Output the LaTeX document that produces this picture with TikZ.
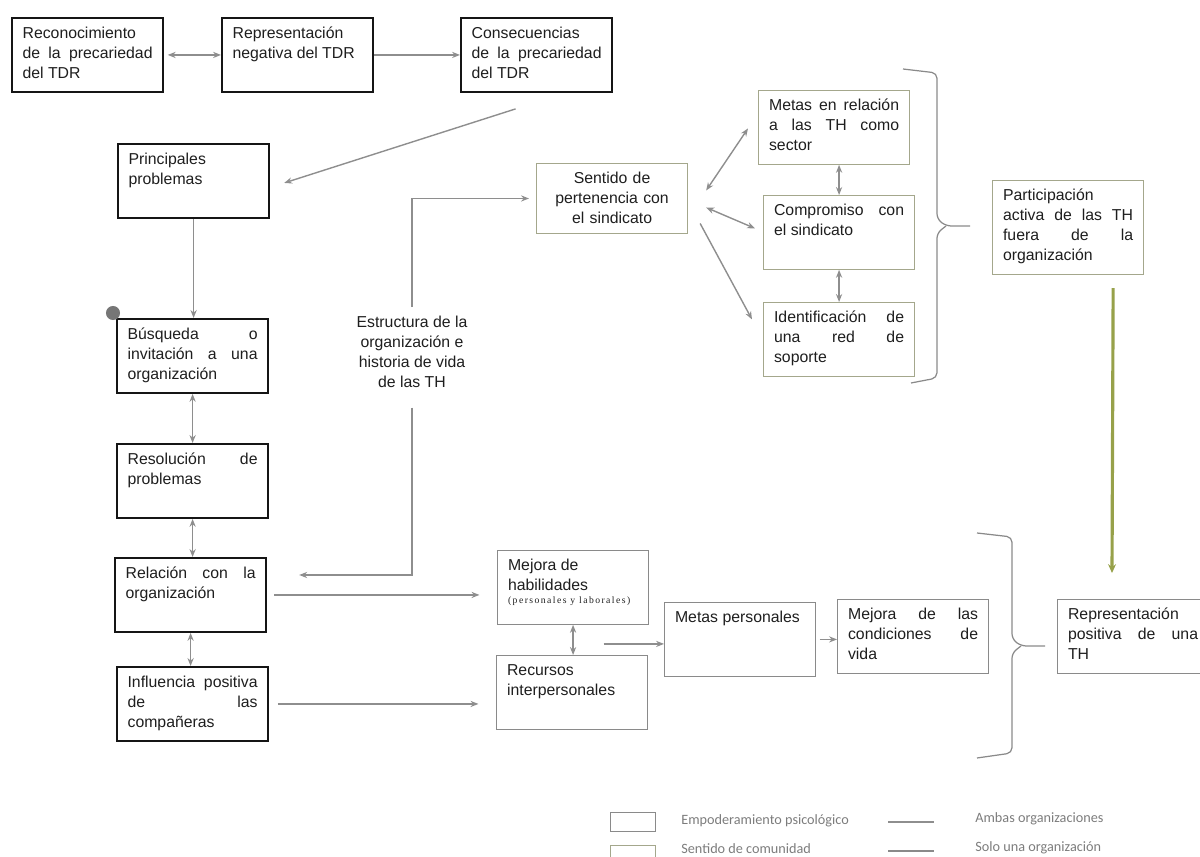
\documentclass[tikz,border=0pt]{standalone}
\usepackage{fontspec}
\setmainfont{Liberation Sans}
\newfontfamily\legendfont{Carlito}
\newfontfamily\notefont[LetterSpace=15]{Liberation Serif}
\usepackage{tikz}
\usetikzlibrary{arrows.meta, positioning, calc}
\definecolor{TDRBlack}{HTML}{151515}
\definecolor{TDRText}{HTML}{1E1E1E}
\definecolor{TDROlive}{HTML}{A4A78C}
\definecolor{TDRGrey}{HTML}{8A8A8A}
\definecolor{TDRArrow}{HTML}{8E8E8E}
\definecolor{TDRGreen}{HTML}{97A14A}
\definecolor{TDRDot}{HTML}{767676}
\definecolor{TDRLegend}{HTML}{7C7C7C}
\hyphenpenalty=10000
\exhyphenpenalty=10000
\hbadness=10000
\tikzset{
    box/.style={
        draw=TDRBlack,
        line width=1.2pt,
        anchor=north west,
        text width=74pt,
        text height=7.5pt,
        text depth=26.5pt,
        inner xsep=6pt,
        inner ysep=4pt,
        text=TDRText,
        font=\fontsize{9}{11.4}\selectfont,
        align=justify
    },
    commbox/.style={
        box,
        draw=TDROlive,
        line width=0.6pt
    },
    lightbox/.style={
        box,
        draw=TDRGrey,
        line width=0.6pt
    },
    note/.style={
        text=TDRText,
        font=\fontsize{9}{11.4}\selectfont,
        align=center,
        inner sep=5pt
    },
    arrow/.style={
        ->,
        >={Stealth[length=4.5pt, width=3.5pt]},
        line width=0.8pt,
        TDRArrow
    },
    twoway/.style={
        arrow,
        <->
    },
    bigarrow/.style={
        ->,
        >={Stealth[length=5pt, width=4.5pt]},
        line width=1.8pt,
        TDRGreen
    },
    bracket/.style={
        TDRGrey,
        line width=0.7pt,
        rounded corners=3pt
    },
    legbox/.style={
        draw=#1,
        line width=0.6pt,
        minimum width=25.6pt,
        minimum height=10.8pt,
        inner sep=0pt
    },
    legbox/.default=TDRGrey,
    legtext/.style={
        anchor=west,
        text=TDRLegend,
        font=\legendfont\fontsize{8.1}{10}\selectfont,
        inner sep=0pt
    }
}

\begin{document}
\begin{tikzpicture}[x=0.02cm, y=-0.02cm]
    \useasboundingbox (0,0) rectangle (1200,857);

    % Top row
    \node[box] (rec) at (11,17) {Reconocimiento\linebreak de la precariedad\linebreak del TDR};
    \node[box] (repneg) at (221,17) {Representación\\ negativa del TDR};
    \node[box] (cons) at (460,17) {Consecuencias\linebreak de la precariedad\linebreak del TDR};

    \draw[twoway, shorten <=2pt] (rec) -- (repneg);
    \draw[arrow] (repneg) -- (cons);

    % Left column
    \node[box] (princ) at (117,143) {Principales\\ problemas};
    \node[box] (busq) at (116,318) {Búsqueda o\linebreak invitación a una\linebreak organización};
    \node[box] (res) at (116,443) {Resolución de\linebreak problemas};
    \node[box] (rel) at (114,557) {Relación con la\linebreak organización};
    \node[box] (infl) at (116,666) {Influencia positiva\linebreak de las\linebreak compañeras};

    \fill[TDRDot] (busq.north west) ++(-3,-5) circle (4pt);

    \draw[arrow] ($(cons.south)+(-21,16)$) -- ($(princ.east)+(14,2)$);
    \draw[arrow] (princ.south) -- (princ.south |- busq.north);
    \draw[twoway] (busq.south) -- (busq.south |- res.north);
    \draw[twoway] (res.south) -- (res.south |- rel.north);
    \draw[twoway] (rel.south) -- (rel.south |- infl.north);

    % Sense of community
    \node[commbox, align=center, text depth=24.3pt] (sent) at (536,163) {Sentido de\\ pertenencia con\\ el sindicato};
    \node[commbox] (metas) at (758,90) {Metas en relación\linebreak a las TH como\linebreak sector};
    \node[commbox] (comp) at (763,195) {Compromiso con\linebreak el sindicato};
    \node[commbox] (identif) at (763,302) {Identificación de\linebreak una red de\linebreak soporte};
    \node[commbox, text depth=38pt] (partic) at (992,180) {Participación\\ activa de las TH\linebreak fuera de la\linebreak organización};

    \draw[twoway] ($(sent.east)+(18,-8)$) -- ($(metas.west)+(-10,1)$);
    \draw[twoway] ($(sent.east)+(18,9)$) -- ($(comp.west)+(-8,-4)$);
    \draw[arrow] ($(sent.east)+(12,25)$) -- ($(identif.west)+(-11,-20)$);
    \draw[twoway] (comp.north) -- (comp.north |- metas.south);
    \draw[twoway] (comp.south) -- (comp.south |- identif.north);

    \draw[bracket] (903,69) -- (937,73) -- (937,219) -- (946,226) -- (970,226);
    \draw[bracket] (946,226) -- (937,233) -- (937,378) -- (911,383);

    % Structure of the organisation
    \node[note] (estr) at (412,352) {Estructura de la\\ organización e\\ historia de vida\\ de las TH};
    \coordinate (relin) at ($(rel.north east)+(32,18)$);
    \draw[arrow, shorten >=4pt] (estr.north) |- (sent.west);
    \draw[arrow, shorten <=6pt] (estr.south) |- (relin);

    % Bottom row
    \node[lightbox] (mejhab) at (497,550) {Mejora de\\ habilidades\\[-4pt] {\notefont\fontsize{5.5}{7}\selectfont(personales y laborales)}};
    \node[lightbox] (recint) at (496,655) {Recursos\\ interpersonales};
    \node[lightbox] (metaspers) at (664,602) {Metas personales};
    \node[lightbox] (mejcond) at (837,599) {Mejora de las\linebreak condiciones de\linebreak vida};
    \node[lightbox] (reppos) at (1057,599) {Representación\\ positiva de una\linebreak TH};

    \draw[arrow, shorten <=4pt, shorten >=10pt] (rel.east) -- (rel.east -| mejhab.west);
    \draw[arrow, shorten <=5pt, shorten >=10pt] (infl.east) -- (infl.east -| recint.west);
    \draw[twoway] (mejhab.south) -- (mejhab.south |- recint.north);
    \coordinate (habjoin) at ($(mejhab.south east)!0.5!(recint.north east)+(-45,4)$);
    \draw[arrow] (habjoin) -- (habjoin -| metaspers.west);
    \draw[arrow, shorten <=2pt] (metaspers.east) -- (metaspers.east -| mejcond.west);

    \draw[bracket] (977,533) -- (1012,537) -- (1012,639) -- (1021,646) -- (1045,646);
    \draw[bracket] (1021,646) -- (1012,653) -- (1012,753) -- (977,758);

    \draw[bigarrow] ($(partic.south east)+(-31,13)$) -- ($(reppos.north west)+(55,-26)$);

    % Legend
    \node[legbox=TDRGrey] (legemp) at (633,822) {};
    \node[legbox=TDROlive] (legcom) at (633,855) {};
    \node[legtext] (legemptxt) at (681,821) {Empoderamiento psicológico};
    \node[legtext] (legcomtxt) at (681,849) {Sentido de comunidad};
    \draw[TDRArrow, line width=0.7pt] (888,822) -- (934,822);
    \draw[TDRGrey, line width=0.7pt] (888,851) -- (934,851);
    \node[legtext] (legambas) at (975,819) {Ambas organizaciones};
    \node[legtext] (legsolo) at (975,848) {Solo una organización};
\end{tikzpicture}
\end{document}
